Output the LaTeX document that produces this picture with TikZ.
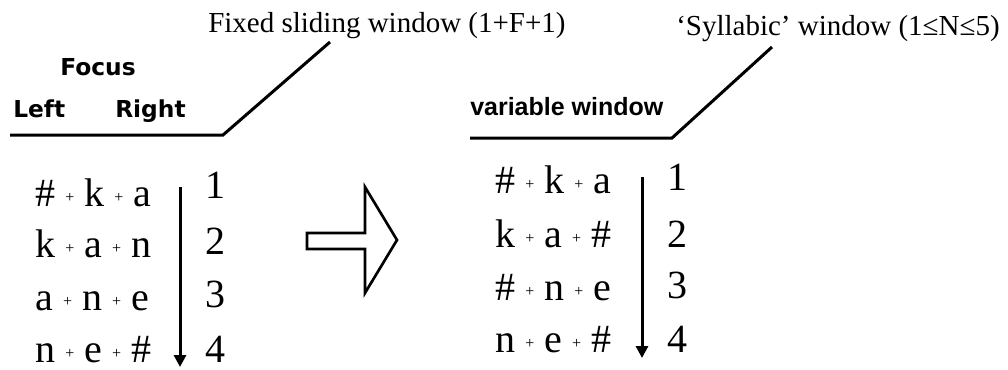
\documentclass[tikz,border=0pt]{standalone}
\usepackage{fontspec}
\setmainfont{Liberation Serif}
\newfontfamily\headfont{DejaVu Sans}
\newfontfamily\varfont{Liberation Sans}
\usetikzlibrary{arrows.meta}
\newcommand{\smallplus}{\hspace{7.5pt}\raisebox{3pt}{\fontsize{12}{12}\selectfont +}\hspace{7.5pt}}

\begin{document}
\begin{tikzpicture}[
  x=0.75pt,y=-0.75pt,
  >={Triangle[length=9pt,width=9pt]},
  title/.style={anchor=base west,inner sep=0pt,font=\fontsize{21.75}{24}\selectfont},
  head/.style={anchor=base west,inner sep=0pt,font=\headfont\bfseries\fontsize{17.5}{19}\selectfont},
  seg/.style={anchor=base west,inner sep=0pt,font=\fontsize{30}{32}\selectfont},
  rule/.style={line width=2.25pt},
  order/.style={line width=2.25pt,->}
]
\useasboundingbox (0,0) rectangle (1008,369);

% fixed window (left)
\node[title] (fixedlbl) at (208,32) {Fixed sliding window (1+F+1)};
\node[head] (focus) at (60,75) {Focus};
\node[head] (left) at (13,117) {Left};
\node[head] (right) at (115,117) {Right};
\coordinate (lstart) at (10,135);
\coordinate (lbend) at (223,135);
\coordinate (lend) at (330,42);
\draw[rule] (lstart) -- (lbend) -- (lend);

\foreach \txt/\yy [count=\i] in {{\#\smallplus k\smallplus a}/206,{k\smallplus a\smallplus n}/257,
    {a\smallplus n\smallplus e}/310,{n\smallplus e\smallplus \#}/362}
  \node[seg] (lrow\i) at (35,\yy) {\txt};
\foreach \n/\yy in {1/198,2/254,3/307,4/362}
  \node[seg] (lnum\n) at (205,\yy) {\n};
\coordinate (ltop) at (180,187);
\coordinate (lbot) at (180,367);
\draw[order] (ltop) -- (lbot);

% block arrow
\draw[line width=2pt,line join=miter] (307,233) -- (365,233) -- (365,187) -- (397,240)
  -- (365,293) -- (365,249) -- (307,249) -- cycle;

% syllabic window (right)
\node[title] (syllbl) at (676,35) {‘Syllabic’ window (1≤N≤5)};
\node[anchor=base west,inner sep=0pt,font=\varfont\bfseries\fontsize{18.75}{20}\selectfont] (varlbl) at (470,115) {variable window};
\coordinate (rstart) at (470,138);
\coordinate (rbend) at (672,138);
\coordinate (rend) at (772,47);
\draw[rule] (rstart) -- (rbend) -- (rend);

\foreach \txt/\yy [count=\i] in {{\#\smallplus k\smallplus a}/193,{k\smallplus a\smallplus \#}/247,
    {\#\smallplus n\smallplus e}/300,{n\smallplus e\smallplus \#}/352}
  \node[seg] (rrow\i) at (495,\yy) {\txt};
\foreach \n/\yy in {1/190,2/247,3/298,4/352}
  \node[seg] (rnum\n) at (667,\yy) {\n};
\coordinate (rtop) at (642,177);
\coordinate (rbot) at (642,358);
\draw[order] (rtop) -- (rbot);
\end{tikzpicture}
\end{document}
